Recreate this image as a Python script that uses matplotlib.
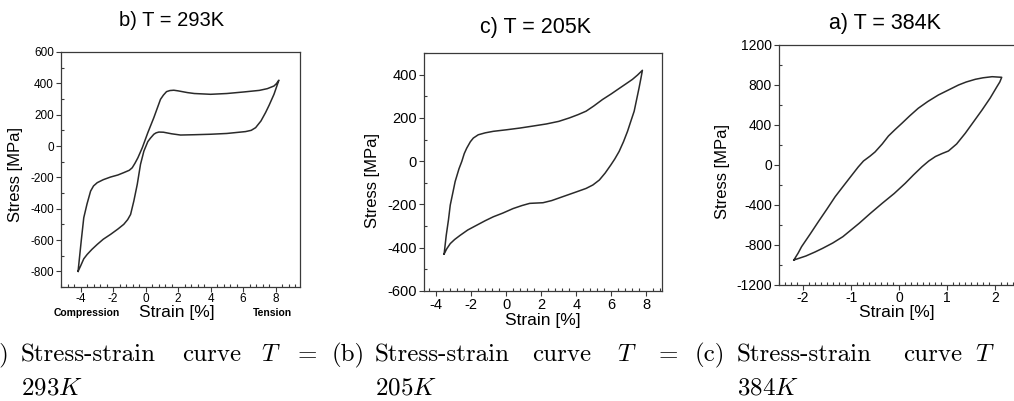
"""
Stress-strain hysteresis loops at three temperatures, laid out like the
three-subfigure page (scanned plots + LaTeX captions).
"""

import matplotlib
matplotlib.use("Agg")
import matplotlib.pyplot as plt
from matplotlib.ticker import MultipleLocator

plt.rcParams["font.family"] = "Liberation Sans"
plt.rcParams["axes.unicode_minus"] = False
plt.rcParams["mathtext.fontset"] = "cm"

# ── Data ──────────────────────────────────────────────────────────────────────

# b) T = 293K : from compression tip, upper branch to tension tip, then back
strain_293 = [-4.15, -4.05, -3.95, -3.8, -3.6, -3.38, -3.2, -2.97, -2.6, -2.15,
              -1.7, -1.34, -1.0, -0.82, -0.65, -0.47, -0.2, 0.14, 0.51, 0.92,
              1.1, 1.29, 1.5, 1.74, 2.0, 2.57, 3.0, 4.0, 5.0, 6.05, 7.0, 7.49,
              7.9, 8.05, 8.2,
              8.05, 7.9, 7.6, 7.38, 7.1, 6.77, 6.5, 6.15, 5.0, 4.0, 3.0, 2.15,
              1.6, 1.1, 0.82, 0.65, 0.51, 0.3, 0.14, -0.1, -0.31, -0.51, -0.72,
              -0.92, -1.1, -1.34, -1.7, -2.15, -2.6, -2.97, -3.3, -3.59, -3.8,
              -4.0, -4.15]
stress_293 = [-800, -700, -600, -458, -370, -288, -255, -234, -215, -198,
              -185, -170, -155, -139, -110, -75, -11, 85, 181, 298,
              325, 347, 354, 356, 352, 341, 335, 330, 335, 345, 355, 366,
              383, 398, 420,
              375, 330, 260, 213, 160, 117, 100, 92, 80, 75, 72, 70,
              78, 88, 89, 84, 75, 50, 28, -32, -117, -245, -351,
              -437, -470, -500, -530, -564, -595, -628, -660, -692, -720,
              -767, -800]

# c) T = 205K
strain_205 = [-3.55, -3.43, -3.3, -3.2, -3.05, -2.92, -2.7, -2.54, -2.4, -2.26,
              -2.05, -1.88, -1.6, -1.2, -0.74, 0.0, 0.77, 1.5, 2.29, 3.0,
              3.61, 4.1, 4.56, 5.0, 5.5, 6.0, 6.45, 6.85, 7.21, 7.5, 7.78,
              7.7, 7.59, 7.45, 7.31, 7.1, 6.93, 6.7, 6.45, 6.2, 5.98, 5.65,
              5.32, 4.95, 4.56, 3.9, 3.23, 2.6, 2.1, 1.34, 0.9, 0.39, -0.2,
              -0.74, -1.2, -1.69, -2.2, -2.64, -2.95, -3.2, -3.4, -3.55]
stress_205 = [-429, -343, -270, -203, -145, -94, -35, -1, 35, 60,
              90, 107, 122, 131, 138, 145, 153, 162, 172, 184,
              200, 215, 231, 255, 285, 311, 336, 358, 378, 398, 420,
              385, 339, 285, 231, 180, 138, 90, 45, 10, -17, -55,
              -87, -110, -126, -145, -164, -182, -192, -195, -205, -219, -240,
              -257, -275, -296, -318, -343, -362, -381, -405, -429]

# a) T = 384K
strain_384 = [-2.19, -2.1, -2.03, -1.85, -1.68, -1.5, -1.33, -1.15, -0.98,
              -0.85, -0.74, -0.6, -0.5, -0.35, -0.22, -0.08, 0.06, 0.22, 0.4,
              0.6, 0.82, 1.03, 1.24, 1.4, 1.59, 1.75, 1.94, 2.14,
              2.1, 2.04, 1.9, 1.73, 1.55, 1.38, 1.2, 1.03, 0.9, 0.76, 0.62,
              0.48, 0.3, 0.13, -0.1, -0.35, -0.6, -0.83, -1.0, -1.17, -1.38,
              -1.59, -1.75, -1.94, -2.19]
stress_384 = [-950, -880, -817, -690, -567, -440, -317, -205, -100,
              -20, 40, 90, 130, 210, 290, 355, 417, 490, 567,
              635, 700, 750, 800, 830, 857, 872, 883, 877,
              830, 783, 670, 550, 430, 317, 210, 140, 115, 85, 40,
              -17, -100, -183, -285, -383, -485, -583, -650, -717, -780,
              -833, -870, -910, -950]

# ── Style config ──────────────────────────────────────────────────────────────

W, H = 1014, 401
LINE_COLOR = "#2a2a2a"
SPINE_COLOR = "#3a3a3a"


def fx(px):
    return px / W


def fy(py):
    return 1 - py / H


def style_axes(ax, xlim, ylim, xmaj, xmin, ymaj, ymin, tick_fs, xpad, ypad):
    ax.set_xlim(*xlim)
    ax.set_ylim(*ylim)
    ax.xaxis.set_major_locator(MultipleLocator(xmaj))
    ax.xaxis.set_minor_locator(MultipleLocator(xmin))
    ax.yaxis.set_major_locator(MultipleLocator(ymaj))
    ax.yaxis.set_minor_locator(MultipleLocator(ymin))
    # Origin-style: major ticks out, minor ticks in
    ax.tick_params(which="both", top=False, right=False,
                   color=SPINE_COLOR, width=0.8, labelsize=tick_fs)
    ax.tick_params(which="major", direction="out", length=3.5)
    ax.tick_params(which="minor", direction="in", length=2.5)
    ax.tick_params(axis="x", which="major", pad=xpad)
    ax.tick_params(axis="y", which="major", pad=ypad)
    for spine in ax.spines.values():
        spine.set_color(SPINE_COLOR)
        spine.set_linewidth(0.9)


fig = plt.figure(figsize=(W / 100, H / 100), dpi=100, facecolor="white")

# ── Panel 1: T = 293K ─────────────────────────────────────────────────────────
ax1 = fig.add_axes([fx(61), fy(287), fx(300) - fx(61), fy(52) - fy(287)])
ax1.plot(strain_293, stress_293, color=LINE_COLOR, lw=1.1)
style_axes(ax1, (-5.2, 9.5), (-900, 600), 2, 0.4, 200, 100, 8.5, 1, 1.5)
fig.text(fx(172), fy(20), "b) T = 293K", fontsize=14.5, ha="center", va="center")
fig.text(fx(16), fy(175), "Stress [MPa]", fontsize=12, rotation=90,
         ha="center", va="center")
fig.text(fx(177), fy(313), "Strain [%]", fontsize=12.5, ha="center", va="center")
fig.text(fx(87), fy(313), "Compression", fontsize=7.5, fontweight="bold",
         ha="center", va="center")
fig.text(fx(272), fy(313), "Tension", fontsize=7.5, fontweight="bold",
         ha="center", va="center")

# ── Panel 2: T = 205K ─────────────────────────────────────────────────────────
ax2 = fig.add_axes([fx(424), fy(291), fx(662) - fx(424), fy(53) - fy(291)])
ax2.plot(strain_205, stress_205, color=LINE_COLOR, lw=1.1)
style_axes(ax2, (-4.7, 8.9), (-600, 500), 2, 0.4, 200, 100, 10.5, 1.5, 1.5)
fig.text(fx(536), fy(28), "c) T = 205K", fontsize=15.5, ha="center", va="center")
fig.text(fx(372), fy(180), "Stress [MPa]", fontsize=12, rotation=90,
         ha="center", va="center")
fig.text(fx(543), fy(320), "Strain [%]", fontsize=12.5, ha="center", va="center")

# ── Panel 3: T = 384K (right edge runs off the page) ─────────────────────────
ax3 = fig.add_axes([fx(779), fy(285), fx(1019) - fx(779), fy(45) - fy(285)])
ax3.plot(strain_384, stress_384, color=LINE_COLOR, lw=1.1)
style_axes(ax3, (-2.5, 2.5), (-1200, 1200), 1, 0.125, 400, 200, 10, 0.5, 1.5)
fig.text(fx(885), fy(23), "a) T = 384K", fontsize=15.5, ha="center", va="center")
fig.text(fx(722), fy(172), "Stress [MPa]", fontsize=12, rotation=90,
         ha="center", va="center")
fig.text(fx(897), fy(313), "Strain [%]", fontsize=12.5, ha="center", va="center")

# ── LaTeX-style captions (cut at the page edges like the screenshot) ─────────
CAP_FS = 18
caption_rows = [
    # (label x, text x, "curve" x, T x, "=" x, second line)
    (-22, 21, 182, 261, 298, "293$K$"),
    (332, 375, 532, 617, 659, "205$K$"),
    (695, 737, 903, 975, 1020, "384$K$"),
]
labels = ["(a)", "(b)", "(c)"]
for lab, (lx, sx, cx, tx, ex, second) in zip(labels, caption_rows):
    kw = dict(fontsize=CAP_FS, family="cmr10", ha="left", va="center")
    fig.text(fx(lx), fy(355), lab, **kw)
    fig.text(fx(sx), fy(355), "Stress-strain", **kw)
    fig.text(fx(cx), fy(355), "curve", **kw)
    fig.text(fx(tx), fy(355), "$T$", **kw)
    fig.text(fx(ex), fy(355), "=", **kw)
    fig.text(fx(sx), fy(388), second, **kw)

plt.savefig("out.png", dpi=100, facecolor="white")
plt.close(fig)
